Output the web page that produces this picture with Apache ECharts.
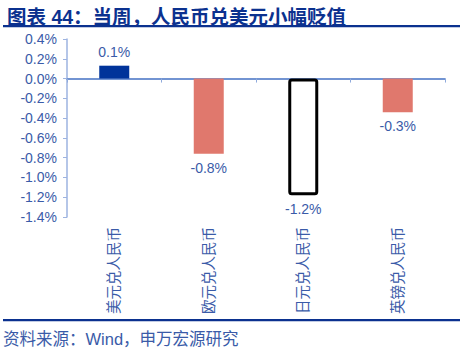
<!DOCTYPE html>
<html lang="zh">
<head>
    <meta charset="utf-8">
    <title>当周，人民币兑美元小幅贬值</title>
    <script src="https://cdn.jsdelivr.net/npm/echarts@6/dist/echarts.min.js"></script>
    <style>
        html, body { margin: 0; padding: 0; background: #fff; }
        #chart { width: 469px; height: 354px; }
    </style>
</head>
<body>
<div id="chart"></div>
<script type="text/javascript">
    // 数据
    var categories = ['美元兑人民币', '欧元兑人民币', '日元兑人民币', '英镑兑人民币'];
    var weekChange = [0.13, -0.76, -1.18, -0.34];   // 单位: %
    var yTicks = {min: -1.4, max: 0.4, step: 0.2};

    var titleText = '图表 44：当周，人民币兑美元小幅贬值';
    var sourceText = '资料来源：Wind，申万宏源研究';

    var blueText = '#3A5BA8';
    var cjkFont = '"Liberation Sans", "Noto Sans CJK SC", sans-serif';

    function barStyle(idx) {
        if (idx === 0) {
            return {color: '#00339A'};
        }
        if (idx === 2) {
            return {color: '#ffffff', borderColor: '#000000', borderWidth: 3, borderRadius: 2};
        }
        return {color: '#E0786D'};
    }

    var barData = weekChange.map(function (v, i) {
        return {
            value: v,
            itemStyle: barStyle(i),
            label: {position: v >= 0 ? 'top' : 'bottom'}
        };
    });

    var myChart = echarts.init(document.getElementById('chart'), null, {renderer: 'svg'});

    var option = {
        animation: false,
        title: {
            text: titleText,
            left: 2,
            top: 2,
            textStyle: {
                color: '#0B318F',
                fontSize: 19.5,
                fontWeight: 'bold',
                fontFamily: cjkFont
            }
        },
        graphic: [
            {type: 'rect', shape: {x: 3, y: 25, width: 457, height: 2.3}, style: {fill: '#0B318F'}},
            {type: 'rect', shape: {x: 3, y: 319, width: 457, height: 2.3}, style: {fill: '#0B318F'}},
            {
                type: 'text', left: 3, top: 331,
                style: {text: sourceText, fill: blueText, fontSize: 16.5, fontFamily: cjkFont}
            }
        ],
        grid: {
            left: 67,
            right: 24,
            top: 39,
            bottom: 137,
            containLabel: false
        },
        xAxis: [
            {
                type: 'category',
                data: categories,
                axisLine: {onZero: true, lineStyle: {color: '#4472C4', width: 1.5}},
                axisTick: {show: true, length: 4, lineStyle: {color: '#8FAADC'}},
                axisLabel: {show: false}
            },
            {
                type: 'category',
                data: categories,
                position: 'bottom',
                axisLine: {show: false, onZero: false},
                axisTick: {show: false},
                axisLabel: {
                    rotate: 90,
                    margin: 10,
                    color: blueText,
                    fontSize: 14.5,
                    fontFamily: cjkFont
                }
            }
        ],
        yAxis: {
            type: 'value',
            min: yTicks.min,
            max: yTicks.max,
            interval: yTicks.step,
            splitLine: {show: false},
            axisLine: {show: true, lineStyle: {color: '#9DB3E0', width: 1.5}},
            axisTick: {show: true, length: 4, lineStyle: {color: '#9DB3E0'}},
            axisLabel: {
                margin: 10,
                color: blueText,
                fontSize: 14,
                fontFamily: cjkFont,
                formatter: function (v) {
                    return v.toFixed(1) + '%';
                }
            }
        },
        series: [
            {
                type: 'bar',
                xAxisIndex: 0,
                barWidth: 30,
                data: barData,
                label: {
                    show: true,
                    distance: 7,
                    color: blueText,
                    fontSize: 14,
                    fontFamily: cjkFont,
                    formatter: function (p) {
                        return p.value.toFixed(1) + '%';
                    }
                }
            }
        ]
    };

    myChart.setOption(option);
</script>
</body>
</html>
